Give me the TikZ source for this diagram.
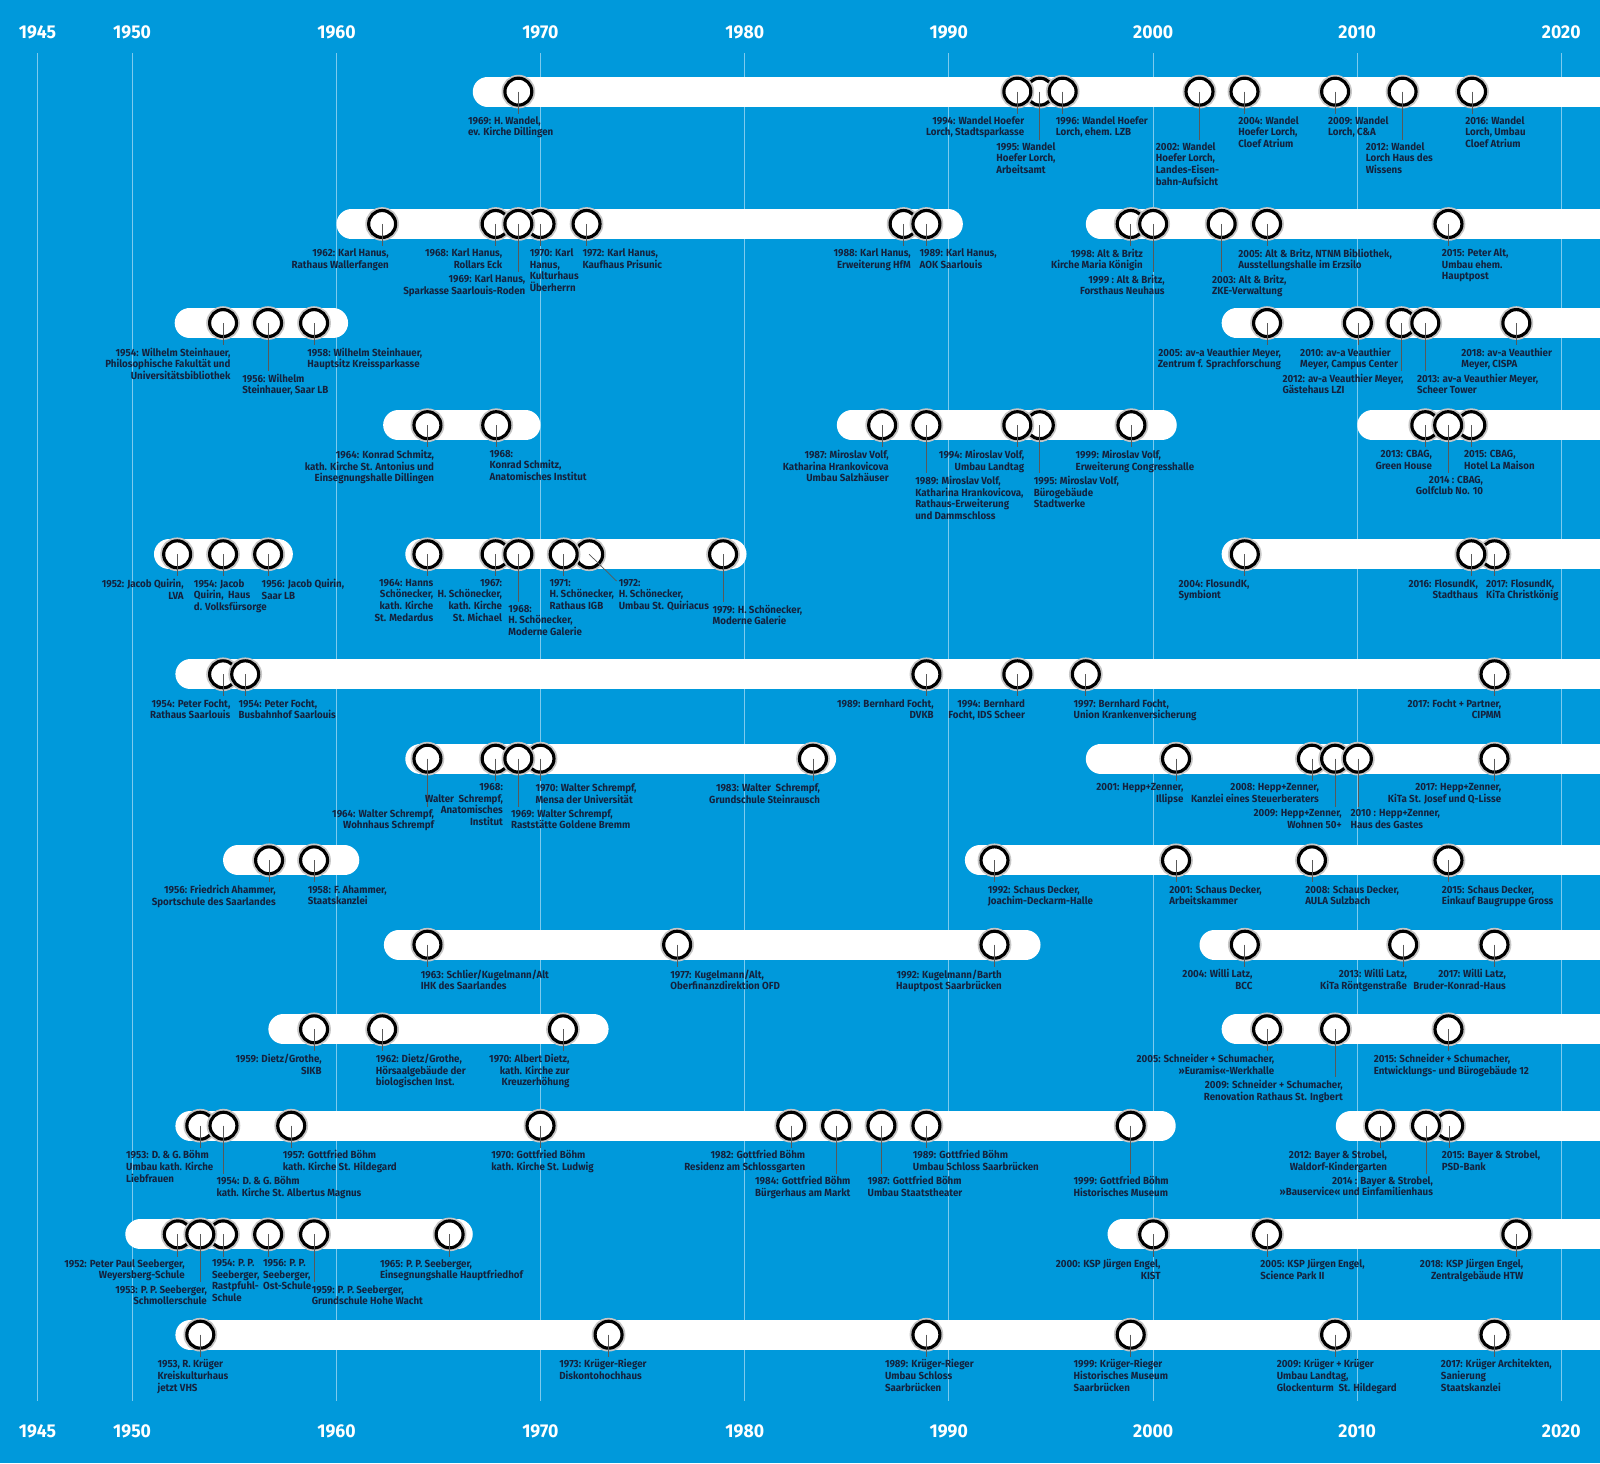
\documentclass[tikz,border=0pt]{standalone}
\usepackage{fontspec}
\newfontfamily\lab{Fira Sans}[FakeStretch=0.945]
\newfontfamily\yrf{Fira Sans}[FakeStretch=0.95]
\usetikzlibrary{calc}
\definecolor{bg}{RGB}{0,153,219}
\definecolor{ink}{RGB}{20,34,62}
\definecolor{gridc}{RGB}{125,202,238}
\tikzset{
 evdot/.style={circle, minimum size=26.4pt, inner sep=0pt, outer sep=0pt, fill=white, draw=black, line width=3.1pt, preaction={draw=black!22, line width=6.6pt}},
 lblbase/.style={font=\lab\bfseries\fontsize{10.1}{11.4}\selectfont, text=ink, inner sep=0pt},
 lblL/.style={lblbase, anchor=north west, align=left},
 lblR/.style={lblbase, anchor=north east, align=right},
 leadline/.style={draw=black!65, line width=0.7pt, shorten >=2.5pt},
 pillbar/.style={draw=white, line width=29.4pt, line cap=round},
 yearlbl/.style={font=\yrf\bfseries\fontsize{18.2}{18}\selectfont, text=white, inner sep=0pt},
 gridline/.style={draw=gridc, line width=1.1pt},
}
\def\TA{24.2}
\def\TB{49.6}
% #1 name, #2 circle x, #3 row y, #4 L/R, #5 label x, #6 tier offset, #7 text
\newcommand\evt[7]{%
  \node[evdot] (#1) at (#2,#3) {};
  \node[lbl#4] (#1t) at (#5,{#3+#6}) {#7};
  \draw[leadline] (#1.center) -- (#1.center |- #1t.north);
}
\newcommand\pill[3]{\draw[pillbar] ({#1+14.7},#3) -- ({#2-14.7},#3);}
\begin{document}
\begin{tikzpicture}[x=1pt,y=-1pt]
\useasboundingbox (0,0) rectangle (1568,1434);
\fill[bg] (0,0) rectangle (1568,1434);
\clip (0,0) rectangle (1568,1434);

% year axis
\foreach \yr/\xx in {1945/36.7,1950/129.5,1960/329.8,1970/529.6,1980/729.9,1990/929.8,2000/1130.1,2010/1330.1,2020/1530}{
  \draw[gridline] (\xx,52.3) -- (\xx,1372.6);
  \node[yearlbl] (top\yr) at (\xx,31.7) {\yr};
  \node[yearlbl] (bot\yr) at (\xx,1402.7) {\yr};
}

% bars
\pill{463.3}{1640}{89.8}
\pill{329.8}{943.6}{219.5}\pill{1064.1}{1640}{219.5}
\pill{171.2}{341.1}{316.6}\pill{1197.2}{1640}{316.6}
\pill{375.5}{529.7}{416.7}\pill{820.1}{1153.2}{416.7}\pill{1330.1}{1640}{416.7}
\pill{150.9}{287}{543.2}\pill{397.2}{731.6}{543.2}\pill{1197.2}{1640}{543.2}
\pill{171.9}{1640}{660.8}
\pill{397.2}{819.4}{743.5}\pill{1064.1}{1640}{743.5}
\pill{218.6}{352.1}{843.1}\pill{945.6}{1640}{843.1}
\pill{376.2}{1019.7}{925.8}\pill{1175.5}{1640}{925.8}
\pill{263}{596.4}{1008.7}\pill{1197.2}{1640}{1008.7}
\pill{171.9}{1152.2}{1103.2}\pill{1309.1}{1640}{1103.2}
\pill{122.8}{463.3}{1209.7}\pill{1085.4}{1640}{1209.7}
\pill{171.9}{1640}{1308}

% row 1
\evt{a1}{508}{89.8}{L}{458.5}{\TA}{1969: H. Wandel,\\ev. Kirche Dillingen}
\evt{a3}{1019}{89.8}{L}{976.2}{\TB}{1995: Wandel\\Hoefer Lorch,\\Arbeitsamt}
\evt{a2}{997}{89.8}{R}{1003.9}{\TA}{1994: Wandel Hoefer\\Lorch, Stadtsparkasse}
\evt{a4}{1041.4}{89.8}{L}{1034.6}{\TA}{1996: Wandel Hoefer\\Lorch, ehem. LZB}
\evt{a5}{1175.5}{89.8}{L}{1132.5}{\TB}{2002: Wandel\\Hoefer Lorch,\\Landes-Eisen-\\bahn-Aufsicht}
\evt{a6}{1219.6}{89.8}{L}{1213.3}{\TA}{2004: Wandel\\Hoefer Lorch,\\Cloef Atrium}
\evt{a7}{1308.4}{89.8}{L}{1301.4}{\TA}{2009: Wandel\\Lorch, C\&A}
\evt{a8}{1374.5}{89.8}{L}{1338.4}{\TB}{2012: Wandel\\Lorch Haus des\\Wissens}
\evt{a9}{1442.6}{89.8}{L}{1435.9}{\TA}{2016: Wandel\\Lorch, Umbau\\Cloef Atrium}

% row 2
\evt{b1}{374.5}{219.5}{R}{381.2}{\TA}{1962: Karl Hanus,\\Rathaus Wallerfangen}
\evt{b2}{485.7}{219.5}{R}{492.3}{\TA}{1968: Karl Hanus,\\Rollars Eck}
\evt{b4}{529.7}{219.5}{L}{519}{\TA}{1970: Karl\\Hanus,\\Kulturhaus\\Überherrn}
\evt{b3}{508}{219.5}{R}{515}{\TB}{1969: Karl Hanus,\\Sparkasse Saarlouis-Roden}
\evt{b5}{574.8}{219.5}{L}{570.7}{\TA}{1972: Karl Hanus,\\Kaufhaus Prisunic}
\evt{b6}{885.5}{219.5}{R}{892.8}{\TA}{1988: Karl Hanus,\\Erweiterung HfM}
\evt{b7}{907.9}{219.5}{L}{901.1}{\TA}{1989: Karl Hanus,\\AOK Saarlouis}
\evt{b8}{1108.1}{219.5}{R}{1120.1}{\TA}{1998: Alt \& Britz\\Kirche Maria Königin}
\evt{b9}{1130.1}{219.5}{R}{1141.5}{\TB}{1999 : Alt \& Britz,\\Forsthaus Neuhaus}
\evt{b10}{1197.2}{219.5}{L}{1187.6}{\TB}{2003: Alt \& Britz,\\ZKE-Verwaltung}
\evt{b11}{1241.7}{219.5}{L}{1213.3}{\TA}{2005: Alt \& Britz, NTNM Bibliothek,\\Ausstellungshalle im Erzsilo}
\evt{b12}{1419.5}{219.5}{L}{1412.9}{\TA}{2015: Peter Alt,\\Umbau ehem.\\Hauptpost}

% row 3
\evt{c1}{218.6}{316.6}{R}{226}{\TA}{1954: Wilhelm Steinhauer,\\Philosophische Fakultät und\\Universitätsbibliothek}
\evt{c2}{262.7}{316.6}{L}{237.3}{\TB}{1956: Wilhelm\\Steinhauer, Saar LB}
\evt{c3}{307.8}{316.6}{L}{301.1}{\TA}{1958: Wilhelm Steinhauer,\\Hauptsitz Kreissparkasse}
\evt{c4}{1241.7}{316.6}{R}{1255.6}{\TA}{2005: av-a Veauthier Meyer,\\Zentrum f. Sprachforschung}
\evt{c5}{1330.7}{316.6}{L}{1274}{\TA}{2010: av-a Veauthier\\Meyer, Campus Center}
\evt{c6}{1373.5}{316.6}{L}{1256.7}{\TB}{2012: av-a Veauthier Meyer,\\Gästehaus LZI}
\evt{c7}{1396.8}{316.6}{L}{1388.5}{\TB}{2013: av-a Veauthier Meyer,\\Scheer Tower}
\evt{c8}{1486}{316.6}{L}{1431.9}{\TA}{2018: av-a Veauthier\\Meyer, CISPA}

% row 4
\evt{d1}{418.9}{416.7}{R}{425.6}{\TA}{1964: Konrad Schmitz,\\kath. Kirche St. Antonius und\\Einsegnungshalle Dillingen}
\evt{d2}{486.3}{416.7}{L}{479.6}{\TA}{1968:\\Konrad Schmitz,\\Anatomisches Institut}
\evt{d3}{864.5}{416.7}{R}{871.1}{\TA}{1987: Miroslav Volf,\\Katharina Hrankovicova\\Umbau Salzhäuser}
\evt{d4}{907.9}{416.7}{L}{896.8}{\TB}{1989: Miroslav Volf,\\Katharina Hrankovicova,\\Rathaus-Erweiterung\\und Dammschloss}
\evt{d6}{1019}{416.7}{L}{1013}{\TB}{1995: Miroslav Volf,\\Bürogebäude\\Stadtwerke}
\evt{d5}{997}{416.7}{R}{1003.9}{\TA}{1994: Miroslav Volf,\\Umbau Landtag}
\evt{d7}{1108.8}{416.7}{L}{1054}{\TA}{1999: Miroslav Volf,\\Erweiterung Congresshalle}
\evt{d8}{1396.8}{416.7}{R}{1403.5}{\TA}{2013: CBAG,\\Green House}
\evt{d10}{1441.9}{416.7}{L}{1434.6}{\TA}{2015: CBAG,\\Hotel La Maison}
\evt{d9}{1419.2}{416.7}{R}{1453.6}{\TB}{2014 : CBAG,\\Golfclub No. 10}

% row 5
\evt{e1}{173.6}{543.2}{R}{180.2}{\TA}{1952: Jacob Quirin,\\LVA}
\evt{e2}{218.6}{543.2}{L}{189.9}{\TA}{1954: Jacob\\Quirin,~~Haus\\d. Volksfürsorge}
\evt{e3}{262.8}{543.2}{L}{256.3}{\TA}{1956: Jacob Quirin,\\Saar LB}
\evt{e4}{418.9}{543.2}{R}{424.8}{\TA}{1964: Hanns\\Schönecker,\\kath. Kirche\\St. Medardus}
\evt{e5}{485.7}{543.2}{R}{492.2}{\TA}{1967:\\H. Schönecker,\\kath. Kirche\\St. Michael}
\evt{e6}{508}{543.2}{L}{498}{\TB}{1968:\\H. Schönecker,\\Moderne Galerie}
\node[evdot] (e8) at (577.4,543.2) {};
\node[lblL] (e8t) at (606.2,567.4) {1972:\\H. Schönecker,\\Umbau St. Quiriacus};
\draw[leadline, shorten >=0pt] (e8.center) -- ([shift={(-2,2)}]e8t.north west);
\evt{e7}{552.4}{543.2}{L}{538.4}{\TA}{1971:\\H. Schönecker,\\Rathaus IGB}
\evt{e9}{708.6}{543.2}{L}{698.2}{\TB}{1979: H. Schönecker,\\Moderne Galerie}
\evt{e10}{1219.9}{543.2}{L}{1154.8}{\TA}{2004: FlosundK,\\Symbiont}
\evt{e12}{1464.6}{543.2}{L}{1456.2}{\TA}{2017: FlosundK,\\KiTa Christkönig}
\evt{e11}{1441.9}{543.2}{R}{1448.6}{\TA}{2016: FlosundK,\\Stadthaus}

% row 6
\evt{f1}{218.6}{660.8}{R}{226}{\TA}{1954: Peter Focht,\\Rathaus Saarlouis}
\evt{f2}{240.3}{660.8}{L}{233.6}{\TA}{1954: Peter Focht,\\Busbahnhof Saarlouis}
\evt{f3}{907.9}{660.8}{R}{915.2}{\TA}{1989: Bernhard Focht,\\DVKB}
\evt{f4}{997}{660.8}{R}{1004.6}{\TA}{1994: Bernhard\\Focht, IDS Scheer}
\evt{f5}{1064.1}{660.8}{L}{1052}{\TA}{1997: Bernhard Focht,\\Union Krankenversicherung}
\evt{f6}{1464.6}{660.8}{R}{1471.3}{\TA}{2017: Focht + Partner,\\CIPMM}

% row 7
\evt{g1}{418.9}{743.5}{R}{425.6}{\TB}{1964: Walter Schrempf,\\Wohnhaus Schrempf}
\evt{g2}{485.7}{743.5}{R}{493}{\TA}{1968:\\Walter~~Schrempf,\\Anatomisches\\Institut}
\evt{g4}{529.7}{743.5}{L}{524.6}{\TA}{1970: Walter Schrempf,\\Mensa der Universität}
\evt{g3}{508}{743.5}{L}{500.7}{\TB}{1969: Walter Schrempf,\\Raststätte Goldene Bremm}
\evt{g5}{796.7}{743.5}{R}{803.7}{\TA}{1983: Walter~~Schrempf,\\Grundschule Steinrausch}
\evt{g6}{1152.5}{743.5}{R}{1159.9}{\TA}{2001: Hepp+Zenner,\\Illipse}
\evt{g7}{1285.7}{743.5}{R}{1292.7}{\TA}{2008: Hepp+Zenner,\\Kanzlei eines Steuerberaters}
\evt{g8}{1308.4}{743.5}{R}{1315.1}{\TB}{2009: Hepp+Zenner,\\Wohnen 50+}
\evt{g9}{1330.7}{743.5}{L}{1323.4}{\TB}{2010 : Hepp+Zenner,\\Haus des Gastes}
\evt{g10}{1464.6}{743.5}{R}{1471.3}{\TA}{2017: Hepp+Zenner,\\KiTa St. Josef und Q-Lisse}

% row 8
\evt{h1}{263.7}{843.1}{R}{270.4}{\TA}{1956: Friedrich Ahammer,\\Sportschule des Saarlandes}
\evt{h2}{307.8}{843.1}{L}{301.4}{\TA}{1958: F. Ahammer,\\Staatskanzlei}
\evt{h3}{974.6}{843.1}{L}{967.9}{\TA}{1992: Schaus Decker,\\Joachim-Deckarm-Halle}
\evt{h4}{1152.5}{843.1}{L}{1145.8}{\TA}{2001: Schaus Decker,\\Arbeitskammer}
\evt{h5}{1285.7}{843.1}{L}{1279}{\TA}{2008: Schaus Decker,\\AULA Sulzbach}
\evt{h6}{1419.5}{843.1}{L}{1412.9}{\TA}{2015: Schaus Decker,\\Einkauf Baugruppe Gross}

% row 9
\evt{i1}{418.9}{925.8}{L}{412.2}{\TA}{1963: Schlier/Kugelmann/Alt\\IHK des Saarlandes}
\evt{i2}{663.6}{925.8}{L}{656.8}{\TA}{1977: Kugelmann/Alt,\\Oberfinanzdirektion OFD}
\evt{i3}{974.6}{925.8}{R}{981.9}{\TA}{1992: Kugelmann/Barth\\Hauptpost Saarbrücken}
\evt{i4}{1219.9}{925.8}{R}{1227.6}{\TA}{2004: Willi Latz,\\BCC}
\evt{i5}{1375.1}{925.8}{R}{1379.1}{\TA}{2013: Willi Latz,\\KiTa Röntgenstraße}
\evt{i6}{1464.6}{925.8}{R}{1475.9}{\TA}{2017: Willi Latz,\\Bruder-Konrad-Haus}

% row 10
\evt{j1}{307.8}{1008.7}{R}{315.4}{\TA}{1959: Dietz/Grothe,\\SIKB}
\evt{j2}{374.5}{1008.7}{L}{368.2}{\TA}{1962: Dietz/Grothe,\\Hörsaalgebäude der\\biologischen Inst.}
\evt{j3}{551.7}{1008.7}{R}{558.3}{\TA}{1970: Albert Dietz,\\kath. Kirche zur\\Kreuzerhöhung}
\evt{j4}{1241.7}{1008.7}{R}{1249}{\TA}{2005: Schneider + Schumacher,\\»Euramis«-Werkhalle}
\evt{j5}{1308.4}{1008.7}{R}{1316.1}{\TB}{2009: Schneider + Schumacher,\\Renovation Rathaus St. Ingbert}
\evt{j6}{1419.5}{1008.7}{L}{1346.1}{\TA}{2015: Schneider + Schumacher,\\Entwicklungs- und Bürogebäude 12}

% row 11
\evt{k1}{196.3}{1103.2}{L}{123.5}{\TA}{1953: D. \& G. Böhm\\Umbau kath. Kirche\\Liebfrauen}
\evt{k2}{219}{1103.2}{L}{212}{\TB}{1954: D. \& G. Böhm\\kath. Kirche St. Albertus Magnus}
\evt{k3}{285.4}{1103.2}{L}{277}{\TA}{1957: Gottfried Böhm\\kath. Kirche St. Hildegard}
\evt{k4}{529.7}{1103.2}{L}{481.3}{\TA}{1970: Gottfried Böhm\\kath. Kirche St. Ludwig}
\evt{k5}{775.4}{1103.2}{R}{789.3}{\TA}{1982: Gottfried Böhm\\Residenz am Schlossgarten}
\evt{k6}{819.4}{1103.2}{L}{739.9}{\TB}{1984: Gottfried Böhm\\Bürgerhaus am Markt}
\evt{k7}{863.8}{1103.2}{L}{850.1}{\TB}{1987: Gottfried Böhm\\Umbau Staatstheater}
\evt{k8}{907.9}{1103.2}{L}{894.5}{\TA}{1989: Gottfried Böhm\\Umbau Schloss Saarbrücken}
\evt{k9}{1108.1}{1103.2}{L}{1052}{\TB}{1999: Gottfried Böhm\\Historisches Museum}
\evt{k10}{1352.4}{1103.2}{R}{1359.5}{\TA}{2012: Bayer \& Strobel,\\Waldorf-Kindergarten}
\evt{k12}{1420.2}{1103.2}{L}{1412.9}{\TA}{2015: Bayer \& Strobel,\\PSD-Bank}
\evt{k11}{1397.5}{1103.2}{R}{1404.5}{\TB}{2014 : Bayer \& Strobel,\\»Bauservice« und Einfamilienhaus}

% row 12
\evt{l1}{174.2}{1209.7}{R}{181.2}{\TA}{1952: Peter Paul Seeberger,\\Weyersberg-Schule}
\evt{l3}{218.6}{1209.7}{L}{207.6}{\TA}{1954: P. P.\\Seeberger,\\Rastpfuhl-\\Schule}
\evt{l2}{196.3}{1209.7}{R}{202.9}{\TB}{1953: P. P. Seeberger,\\Schmollerschule}
\evt{l4}{262.8}{1209.7}{L}{257.7}{\TA}{1956: P. P.\\Seeberger,\\Ost-Schule}
\evt{l5}{307.8}{1209.7}{L}{305.4}{\TB}{1959: P. P. Seeberger,\\Grundschule Hohe Wacht}
\evt{l6}{440.6}{1209.7}{L}{372.2}{\TA}{1965: P. P. Seeberger,\\Einsegnungshalle Hauptfriedhof}
\evt{l7}{1130.1}{1209.7}{R}{1137.5}{\TA}{2000: KSP Jürgen Engel,\\KIST}
\evt{l8}{1241.7}{1209.7}{L}{1235}{\TA}{2005: KSP Jürgen Engel,\\Science Park II}
\evt{l9}{1486}{1209.7}{R}{1493}{\TA}{2018: KSP Jürgen Engel,\\Zentralgebäude HTW}

% row 13
\evt{m1}{196.3}{1308}{L}{154.2}{\TA}{1953, R. Krüger\\Kreiskulturhaus\\jetzt VHS}
\evt{m2}{596.4}{1308}{L}{548}{\TA}{1973: Krüger-Rieger\\Diskontohochhaus}
\evt{m3}{907.9}{1308}{L}{867.1}{\TA}{1989: Krüger-Rieger\\Umbau Schloss\\Saarbrücken}
\evt{m4}{1108.1}{1308}{L}{1052}{\TA}{1999: Krüger-Rieger\\Historisches Museum\\Saarbrücken}
\evt{m5}{1308.4}{1308}{L}{1251}{\TA}{2009: Krüger + Krüger\\Umbau Landtag,\\Glockenturm~~St. Hildegard}
\evt{m6}{1464.6}{1308}{L}{1411.9}{\TA}{2017: Krüger Architekten,\\Sanierung\\Staatskanzlei}
\end{tikzpicture}
\end{document}
